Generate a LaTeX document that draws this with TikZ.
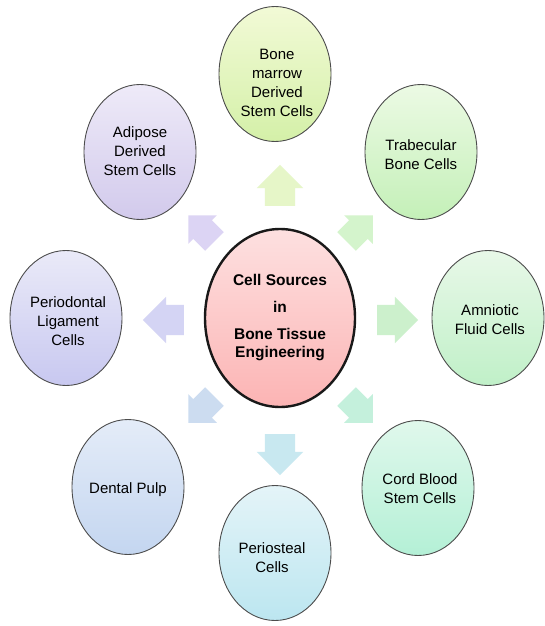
\documentclass[tikz,border=0pt]{standalone}
\usepackage{fontspec}
\setmainfont{Liberation Sans}
\usetikzlibrary{shapes.geometric,shapes.arrows}
\begin{document}
\begin{tikzpicture}[x=1pt,y=-1pt,
  cell/.style={ellipse, draw=black!70, line width=0.9pt, inner sep=0pt,
    minimum width=112pt, minimum height=135pt},
  hub/.style={ellipse, draw=black!90, line width=2.4pt, inner sep=0pt,
    minimum width=150pt, minimum height=178pt, align=center,
    font=\fontsize{15.5}{18}\selectfont\bfseries,
    top color=pinkA, bottom color=pinkB},
  txt/.style={align=center, inner sep=0pt, font=\fontsize{15}{19}\selectfont},
  blk/.style={single arrow, draw=none, inner xsep=0pt, inner ysep=15pt,
    minimum height=41pt, single arrow head extend=8pt},
  dblk/.style={blk, inner ysep=13pt, minimum height=37pt, single arrow head extend=7pt}]
\definecolor{pinkA}{HTML}{FDE0E0}
\definecolor{pinkB}{HTML}{FCB4B4}
\useasboundingbox (0,0) rectangle (545,626);
\fill[white] (0,0) rectangle (545,626);

% arrows
\node[blk, fill={rgb,255:red,230;green,246;blue,200}, rotate=90] (aU) at (280,193) {};
\node[dblk, fill={rgb,255:red,212;green,244;blue,204}, rotate=45] (aNE) at (355,233) {};
\node[blk, fill={rgb,255:red,204;green,240;blue,204}, rotate=0] (aR) at (390,320) {};
\node[dblk, fill={rgb,255:red,196;green,240;blue,220}, rotate=-45] (aSE) at (355,405) {};
\node[blk, fill={rgb,255:red,200;green,232;blue,240}, rotate=-90] (aD) at (280,447) {};
\node[dblk, fill={rgb,255:red,204;green,220;blue,240}, rotate=-135] (aSW) at (206,405) {};
\node[blk, fill={rgb,255:red,212;green,212;blue,244}, rotate=180] (aL) at (171,320) {};
\node[dblk, fill={rgb,255:red,220;green,212;blue,244}, rotate=135] (aNW) at (206,233) {};

% outer cells
\node[cell, top color={rgb,255:red,242;green,250;blue,214}, bottom color={rgb,255:red,212;green,240;blue,168}] (bm) at (275,74) {};
\node[txt] (bmt) at (277,83) {Bone\\marrow\\Derived\\Stem Cells};

\node[cell, top color={rgb,255:red,236;green,250;blue,228}, bottom color={rgb,255:red,196;green,240;blue,184}] (tb) at (421,152) {};
\node[txt] (tbt) at (421,155) {Trabecular\\Bone Cells};

\node[cell, top color={rgb,255:red,232;green,248;blue,232}, bottom color={rgb,255:red,192;green,240;blue,200}] (am) at (488,318) {};
\node[txt] (amt) at (490,320) {Amniotic\\Fluid Cells};

\node[cell, top color={rgb,255:red,224;green,248;blue,236}, bottom color={rgb,255:red,180;green,240;blue,214}] (cb) at (418,488) {};
\node[txt] (cbt) at (420,489) {Cord Blood\\Stem Cells};

\node[cell, top color={rgb,255:red,228;green,244;blue,248}, bottom color={rgb,255:red,188;green,230;blue,240}] (po) at (275,553) {};
\node[txt] (pot) at (272,558) {Periosteal\\Cells};

\node[cell, top color={rgb,255:red,228;green,236;blue,248}, bottom color={rgb,255:red,196;green,214;blue,240}] (dp) at (128,487) {};
\node[txt] (dpt) at (128,490) {Dental Pulp};

\node[cell, top color={rgb,255:red,234;green,234;blue,248}, bottom color={rgb,255:red,200;green,200;blue,240}] (pl) at (66,318) {};
\node[txt] (plt) at (68,321) {Periodontal\\Ligament\\Cells};

\node[cell, top color={rgb,255:red,238;green,234;blue,248}, bottom color={rgb,255:red,210;green,202;blue,236}] (ad) at (140,152) {};
\node[txt] (adt) at (140,151) {Adipose\\Derived\\Stem Cells};

% hub
\node[hub] (hubn) at (280,318) {Cell Sources\\[9pt]in\\[9pt]Bone Tissue\\Engineering};
\end{tikzpicture}
\end{document}
